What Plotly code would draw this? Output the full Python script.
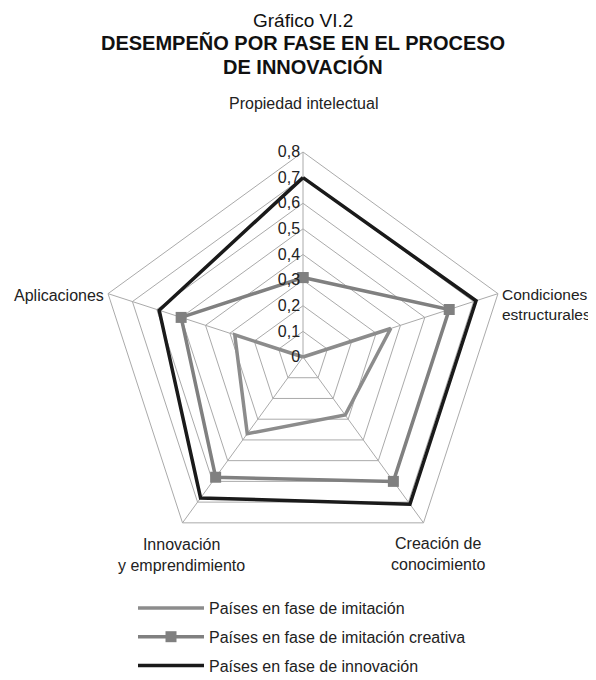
import plotly.graph_objects as go

categories = ["Propiedad intelectual", "Condiciones estructurales", "Creación de conocimiento",
              "Innovación y emprendimiento", "Aplicaciones"]
imitacion = [0.0, 0.36, 0.28, 0.37, 0.28]
imitacion_creativa = [0.31, 0.60, 0.60, 0.58, 0.50]
innovacion = [0.70, 0.71, 0.71, 0.68, 0.59]
series_names = ["Países en fase de imitación", "Países en fase de imitación creativa",
                "Países en fase de innovación"]
radial_ticks = [0, 0.1, 0.2, 0.3, 0.4, 0.5, 0.6, 0.7, 0.8]
radial_ticktext = ["0", "0,1", "0,2", "0,3", "0,4", "0,5", "0,6", "0,7", "0,8"]

FONT = "Liberation Sans, Arial, sans-serif"
W, H = 596, 680

def closed(v):
    return v + v[:1]

theta = closed(categories)

fig = go.Figure()
fig.add_trace(go.Scatterpolar(r=closed(imitacion), theta=theta, mode="lines",
                              name=series_names[0], legendgroup="a",
                              line=dict(color="#8c8c8c", width=3.5)))
fig.add_trace(go.Scatterpolar(r=closed(imitacion_creativa), theta=theta, mode="lines+markers",
                              name=series_names[1], legendgroup="b",
                              line=dict(color="#808080", width=3.5),
                              marker=dict(symbol="square", size=11, color="#808080")))
fig.add_trace(go.Scatterpolar(r=closed(innovacion), theta=theta, mode="lines",
                              name=series_names[2], legendgroup="c",
                              line=dict(color="#1a1a1a", width=3.5)))

cx, cy, R = 295, 349, 205
fig.update_layout(
    width=W, height=H,
    margin=dict(l=0, r=0, t=0, b=0),
    paper_bgcolor="white", plot_bgcolor="white",
    font=dict(family=FONT, size=16, color="#222222"),
    polar=dict(
        domain=dict(x=[(cx - R) / W, (cx + R) / W], y=[1 - (cy + R) / H, 1 - (cy - R) / H]),
        gridshape="linear",
        bgcolor="white",
        angularaxis=dict(direction="clockwise", rotation=90, showticklabels=False,
                         ticks="", linecolor="#aaaaaa", linewidth=1,
                         gridcolor="#aaaaaa", gridwidth=1),
        radialaxis=dict(range=[0, 0.8], tickmode="array", tickvals=radial_ticks,
                        ticktext=radial_ticktext,
                        angle=90, tickangle=90, side="counterclockwise",
                        showline=False, ticks="", gridcolor="#aaaaaa", gridwidth=1,
                        tickfont=dict(size=16, color="#222222")),
    ),
    showlegend=True,
    legend=dict(x=125 / W, y=1 - 583 / H, xanchor="left", yanchor="top",
                itemwidth=66, tracegroupgap=5, traceorder="grouped",
                font=dict(size=16, color="#222222"), bgcolor="rgba(0,0,0,0)"),
)

title_lines = [
    ("Gráfico VI.2", 12, False, 19),
    ("DESEMPEÑO POR FASE EN EL PROCESO", 35, True, 20),
    ("DE INNOVACIÓN", 58, True, 20),
]
for txt, y, bold, fs in title_lines:
    fig.add_annotation(text=f"<b>{txt}</b>" if bold else txt, x=295 / W, y=1 - y / H,
                       xref="paper", yref="paper", showarrow=False,
                       xanchor="center", yanchor="middle",
                       font=dict(size=fs, family=FONT, color="#111111"))

label_pos = [
    (295, 96, "center", "center", 16),
    (492, 296, "left", "left", 15.5),
    (430, 546, "center", "center", 16),
    (173, 547, "center", "center", 16),
    (98, 287, "right", "right", 16),
]
label_text = ["Propiedad intelectual", "Condiciones<br>estructurales", "Creación de<br>conocimiento",
              "Innovación<br>y emprendimiento", "Aplicaciones"]
for txt, (x, y, xa, al, fs) in zip(label_text, label_pos):
    fig.add_annotation(text=txt, x=x / W, y=1 - y / H, xref="paper", yref="paper",
                       showarrow=False, xanchor=xa, yanchor="middle", align=al,
                       font=dict(size=fs, family=FONT, color="#222222"))

fig.write_html("out.html")
